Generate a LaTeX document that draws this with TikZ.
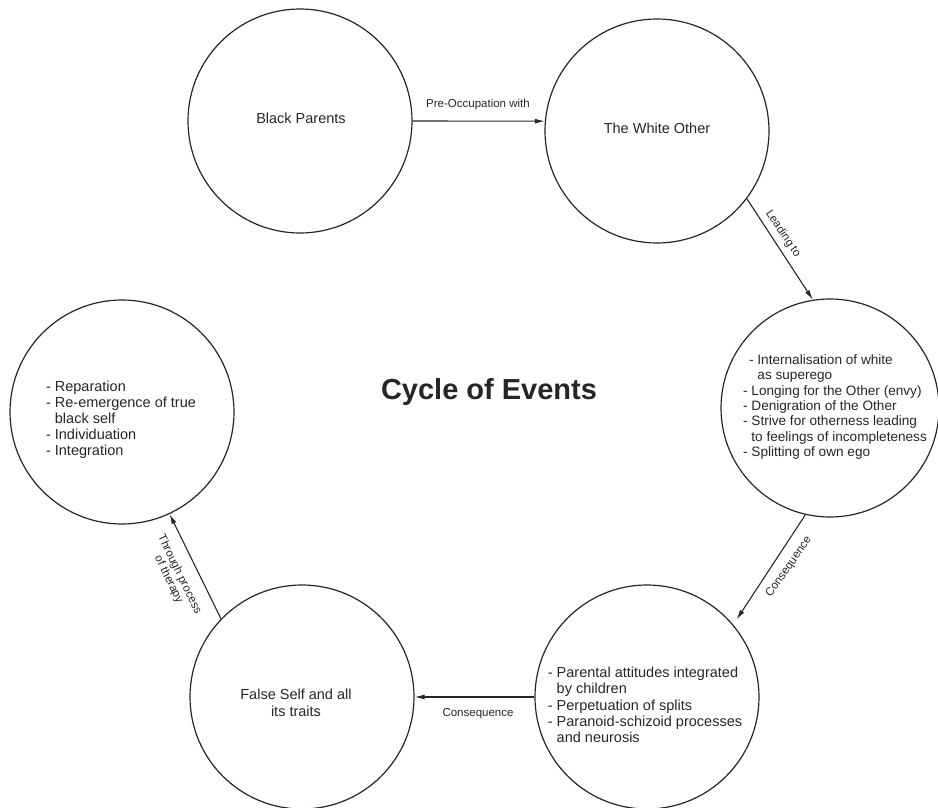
\documentclass[tikz,border=0pt]{standalone}
\usepackage{fontspec}
\setmainfont{Liberation Sans}
\usetikzlibrary{arrows.meta}
\definecolor{ink}{HTML}{262626}
\begin{document}
\begin{tikzpicture}[x=1pt,y=-1pt,
  circ/.style={circle,draw=ink,line width=1.2pt,minimum size=224pt,inner sep=0pt},
  body/.style={text=ink,font=\fontsize{14.5}{16}\selectfont,align=left,inner sep=0pt},
  lab/.style={text=ink,font=\fontsize{11.5}{12.5}\selectfont,inner sep=0pt,align=left},
  conn/.style={draw=ink,line width=1.1pt,-{Latex[length=10pt,width=5pt]}},
]
\useasboundingbox (0,0) rectangle (938,808);
% circles
\node[circ] (bp) at (300,121) {};
\node[circ] (wo) at (657,131) {};
\node[circ,minimum size=218pt] (rc) at (830,408) {};
\node[circ] (br) at (647,697) {};
\node[circ] (bl) at (302,697) {};
\node[circ] (lc) at (122,412) {};
% texts
\node[body] (bpt) at (301,118) {Black Parents};
\node[body] (wot) at (657,128) {The White Other};
\node[body,font=\fontsize{13.6}{15.3}\selectfont] (rct) at (835,407) {\hspace*{6pt}- Internalisation of white\\
\hspace*{6pt}\phantom{- }as superego\\
- Longing for the Other (envy)\\
- Denigration of the Other\\
- Strive for otherness leading\\
\phantom{- }to feelings of incompleteness\\
- Splitting of own ego};
\node[body,font=\fontsize{14.5}{16.3}\selectfont] (brt) at (645,705) {- Parental attitudes integrated\\
\phantom{- }by children\\
- Perpetuation of splits\\
- Paranoid-schizoid processes\\
\phantom{- }and neurosis};
\node[body,align=center,font=\fontsize{14.5}{17}\selectfont] (blt) at (296,703) {False Self and all\\its traits};
\node[body] (lct) at (121,420) {- Reparation\\
- Re-emergence of true\\
\phantom{- }black self\\
- Individuation\\
- Integration};
\node[text=ink,font=\fontsize{29}{30}\selectfont\bfseries] (title) at (489,392) {Cycle of Events};
% connectors
\draw[conn] (bp.east) -- (wo.175);
\node[lab] (l1) at (478,105) {Pre-Occupation with};
\draw[conn] (wo.-37) -- (rc.99);
\node[lab,rotate=-56] (l2) at (783,234) {Leading to};
\draw[conn,shorten >=6pt] (rc.257) -- (br.40);
\node[lab,rotate=55] (l3) at (789,567) {Consequence};
\draw[conn] (br.west) -- (bl.east);
\node[lab] (l4) at (478,714) {Consequence};
\draw[conn] (bl.136) -- (lc.-65);
\node[lab,rotate=-64,align=center,font=\fontsize{11.5}{12}\selectfont] (l5) at (174,577) {Through process\\of therapy};
\end{tikzpicture}
\end{document}
